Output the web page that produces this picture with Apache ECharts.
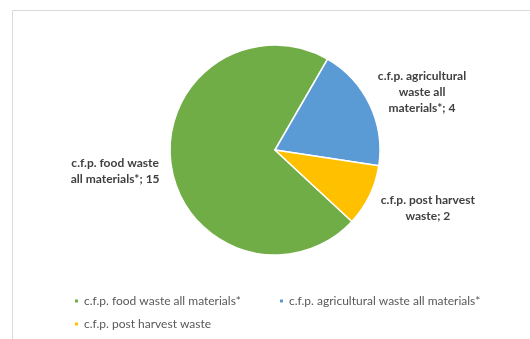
<!DOCTYPE html>
<html>
<head>
<meta charset="utf-8">
<script src="https://cdn.jsdelivr.net/npm/echarts@6/dist/echarts.min.js"></script>
<style>html,body{margin:0;padding:0;background:#fff}#c{width:530px;height:339px}</style>
</head>
<body>
<div id="c"></div>
<script>
const categories = ['c.f.p. food waste all materials*', 'c.f.p. agricultural waste all materials*', 'c.f.p. post harvest waste'];
const values = [15, 4, 2];
const labelTexts = [['c.f.p. food waste', 'all materials*; 15'], ['c.f.p. agricultural', 'waste all', 'materials*; 4'], ['c.f.p. post harvest', 'waste; 2']];
const colors = ['#70AD47', '#5B9BD5', '#FFC000'];
const lineLens = [[35, -28], [28, -22], [28, -19]];

const FONT = 'Lato, "Liberation Sans", sans-serif';
const chart = echarts.init(document.getElementById('c'), null, {renderer: 'canvas'});

const data = categories.map((n, i) => ({
  name: n,
  value: values[i],
  itemStyle: {color: colors[i]},
  label: {formatter: labelTexts[i].map(t => '{a|' + t + '}').join('\n')},
  labelLine: {show: false, length: lineLens[i][0], length2: lineLens[i][1]}
}));

function legend(name, left, top) {
  return {
    data: [name], left: left, top: top, padding: 0,
    icon: 'rect', itemWidth: 5, itemHeight: 5, selectedMode: false,
    textStyle: {color: '#595959', fontSize: 12, fontFamily: FONT}
  };
}

chart.setOption({
  animation: false,
  graphic: [{type: 'rect', shape: {x: 12.5, y: 10.5, width: 530, height: 340}, style: {fill: 'none', stroke: '#d9d9d9', lineWidth: 1}, silent: true}],
  legend: [
    legend(categories[0], 73, 295),
    legend(categories[1], 278, 295),
    legend(categories[2], 73, 318)
  ],
  series: [{
    type: 'pie',
    center: [275, 150],
    radius: 105,
    startAngle: -42.9,
    clockwise: true,
    avoidLabelOverlap: false,
    itemStyle: {borderColor: '#fff', borderWidth: 1.5},
    label: {
      show: true, position: 'outside',
      rich: {a: {align: 'center', color: '#404040', fontWeight: 'bold', fontSize: 12, fontFamily: FONT, lineHeight: 16}}
    },
    emphasis: {disabled: true},
    data: data
  }]
});
</script>
</body>
</html>
